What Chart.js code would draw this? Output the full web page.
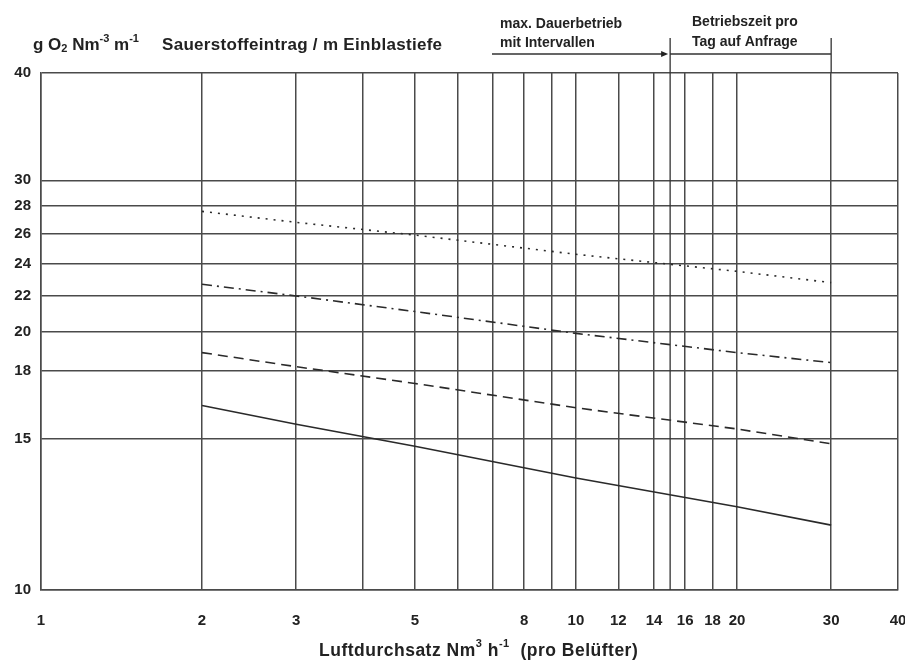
<!DOCTYPE html>
<html>
<head>
<meta charset="utf-8">
<script src="https://cdn.jsdelivr.net/npm/chart.js@4.4.1/dist/chart.umd.min.js"></script>
<style>
  html, body { margin: 0; padding: 0; background: #fff; }
  canvas { display: block; }
</style>
</head>
<body>
<canvas id="chart" width="905" height="660"></canvas>
<script>
// values at these air flow rates
var xValues = [2, 3, 5, 10, 20, 30];
var dotted  = [27.6, 26.8, 25.9, 24.6, 23.5, 22.8];
var dashDot = [22.7, 22.0, 21.1, 19.9, 18.9, 18.4];
var dashed  = [18.9, 18.2, 17.4, 16.3, 15.4, 14.8];
var solid   = [16.4, 15.6, 14.7, 13.5, 12.5, 11.9];

var xGrid   = [1, 2, 3, 4, 5, 6, 7, 8, 9, 10, 12, 14, 16, 18, 20, 30, 40];
var xLabels = [1, 2, 3, 5, 8, 10, 12, 14, 16, 18, 20, 30, 40];
var yTicks  = [10, 15, 18, 20, 22, 24, 26, 28, 30, 40];

var limitX = 15;  // border between the two operating ranges
var endX = 30;

var FONT = '"Liberation Sans", Arial, sans-serif';
var INK = '#222';
var GRID = '#4a4a4a';

function points(ys) {
    return xValues.map(function (x, i) { return {x: x, y: ys[i]}; });
}

function series(ys, dash) {
    return {
        data: points(ys),
        borderColor: '#2a2a2a',
        borderWidth: 1.6,
        borderDash: dash,
        pointRadius: 0,
        fill: false,
        tension: 0
    };
}

// draws text with super/subscripts, returns end x
function rich(ctx, x, y, parts, size) {
    parts.forEach(function (p) {
        var s = p[1] === 0 ? size : Math.round(size * 0.62);
        var dy = p[1] === 1 ? -size * 0.38 : (p[1] === -1 ? size * 0.25 : 0);
        ctx.font = 'bold ' + s + 'px ' + FONT;
        ctx.fillText(p[0], x, y + dy);
        x += ctx.measureText(p[0]).width;
    });
    return x;
}

var labelsPlugin = {
    id: 'labels',
    afterDraw: function (chart) {
        var ctx = chart.ctx;
        var xs = chart.scales.x;
        var area = chart.chartArea;
        ctx.save();
        ctx.fillStyle = INK;
        ctx.textBaseline = 'middle';
        ctx.textAlign = 'left';

        // y axis title
        rich(ctx, 33, 45, [['g O', 0], ['2', -1], [' Nm', 0], ['-3', 1], [' m', 0], ['-1', 1]], 17);
        ctx.font = 'bold 17px ' + FONT;
        ctx.letterSpacing = '0.3px';
        ctx.fillText('Sauerstoffeintrag / m Einblastiefe', 162, 45);

        // x axis title
        ctx.letterSpacing = '0.5px';
        rich(ctx, 319, 651, [['Luftdurchsatz Nm', 0], ['3', 1], [' h', 0], ['-1', 1], ['  (pro Belüfter)', 0]], 17.5);
        ctx.letterSpacing = '0px';

        // operating range marks
        var xl = xs.getPixelForValue(limitX);
        var xe = xs.getPixelForValue(endX);
        ctx.strokeStyle = '#333';
        ctx.lineWidth = 1.3;
        ctx.beginPath();
        ctx.moveTo(xl, 38); ctx.lineTo(xl, area.bottom);
        ctx.moveTo(xe, 38); ctx.lineTo(xe, area.top);
        ctx.moveTo(xl, 54); ctx.lineTo(xe, 54);
        ctx.moveTo(492, 54); ctx.lineTo(xl - 6, 54);
        ctx.stroke();
        ctx.fillStyle = '#222';
        ctx.beginPath();
        ctx.moveTo(xl - 2, 54); ctx.lineTo(xl - 9, 51); ctx.lineTo(xl - 9, 57);
        ctx.closePath();
        ctx.fill();

        ctx.fillStyle = INK;
        ctx.font = 'bold 14px ' + FONT;
        ctx.fillText('max. Dauerbetrieb', 500, 24);
        ctx.fillText('mit Intervallen', 500, 43);
        ctx.fillText('Betriebszeit pro', 692, 22);
        ctx.fillText('Tag auf Anfrage', 692, 42);
        ctx.restore();
    }
};

new Chart('chart', {
    type: 'line',
    data: {
        datasets: [
            series(dotted, [2, 6]),
            series(dashDot, [10, 5, 2, 5]),
            series(dashed, [10, 6]),
            series(solid, [])
        ]
    },
    options: {
        responsive: false,
        devicePixelRatio: 1,
        animation: false,
        layout: {padding: {top: 73, right: 7, bottom: 0, left: 0}},
        plugins: {legend: {display: false}, tooltip: {enabled: false}},
        scales: {
            x: {
                type: 'logarithmic',
                min: 1,
                max: 40,
                afterBuildTicks: function (s) {
                    s.ticks = xGrid.map(function (v) { return {value: v}; });
                },
                afterFit: function (s) {
                    s.height = 70;
                    s.paddingLeft = 0;
                    s.paddingRight = 0;
                },
                grid: {color: GRID, lineWidth: 1.5, drawTicks: false},
                border: {color: GRID, width: 1.5},
                ticks: {
                    autoSkip: false,
                    maxRotation: 0,
                    padding: 22,
                    color: INK,
                    font: {family: FONT, size: 15, weight: 'bold'},
                    callback: function (v) { return xLabels.indexOf(v) >= 0 ? String(v) : ''; }
                }
            },
            y: {
                type: 'logarithmic',
                min: 10,
                max: 40,
                afterBuildTicks: function (s) {
                    s.ticks = yTicks.map(function (v) { return {value: v}; });
                },
                afterFit: function (s) {
                    s.width = 41;
                    s.paddingTop = 0;
                    s.paddingBottom = 0;
                },
                grid: {color: GRID, lineWidth: 1.5, drawTicks: false},
                border: {color: GRID, width: 1.5},
                ticks: {
                    autoSkip: false,
                    padding: 10,
                    color: INK,
                    font: {family: FONT, size: 15, weight: 'bold'},
                    callback: function (v) { return String(v); }
                }
            }
        }
    },
    plugins: [labelsPlugin]
});
</script>
</body>
</html>
